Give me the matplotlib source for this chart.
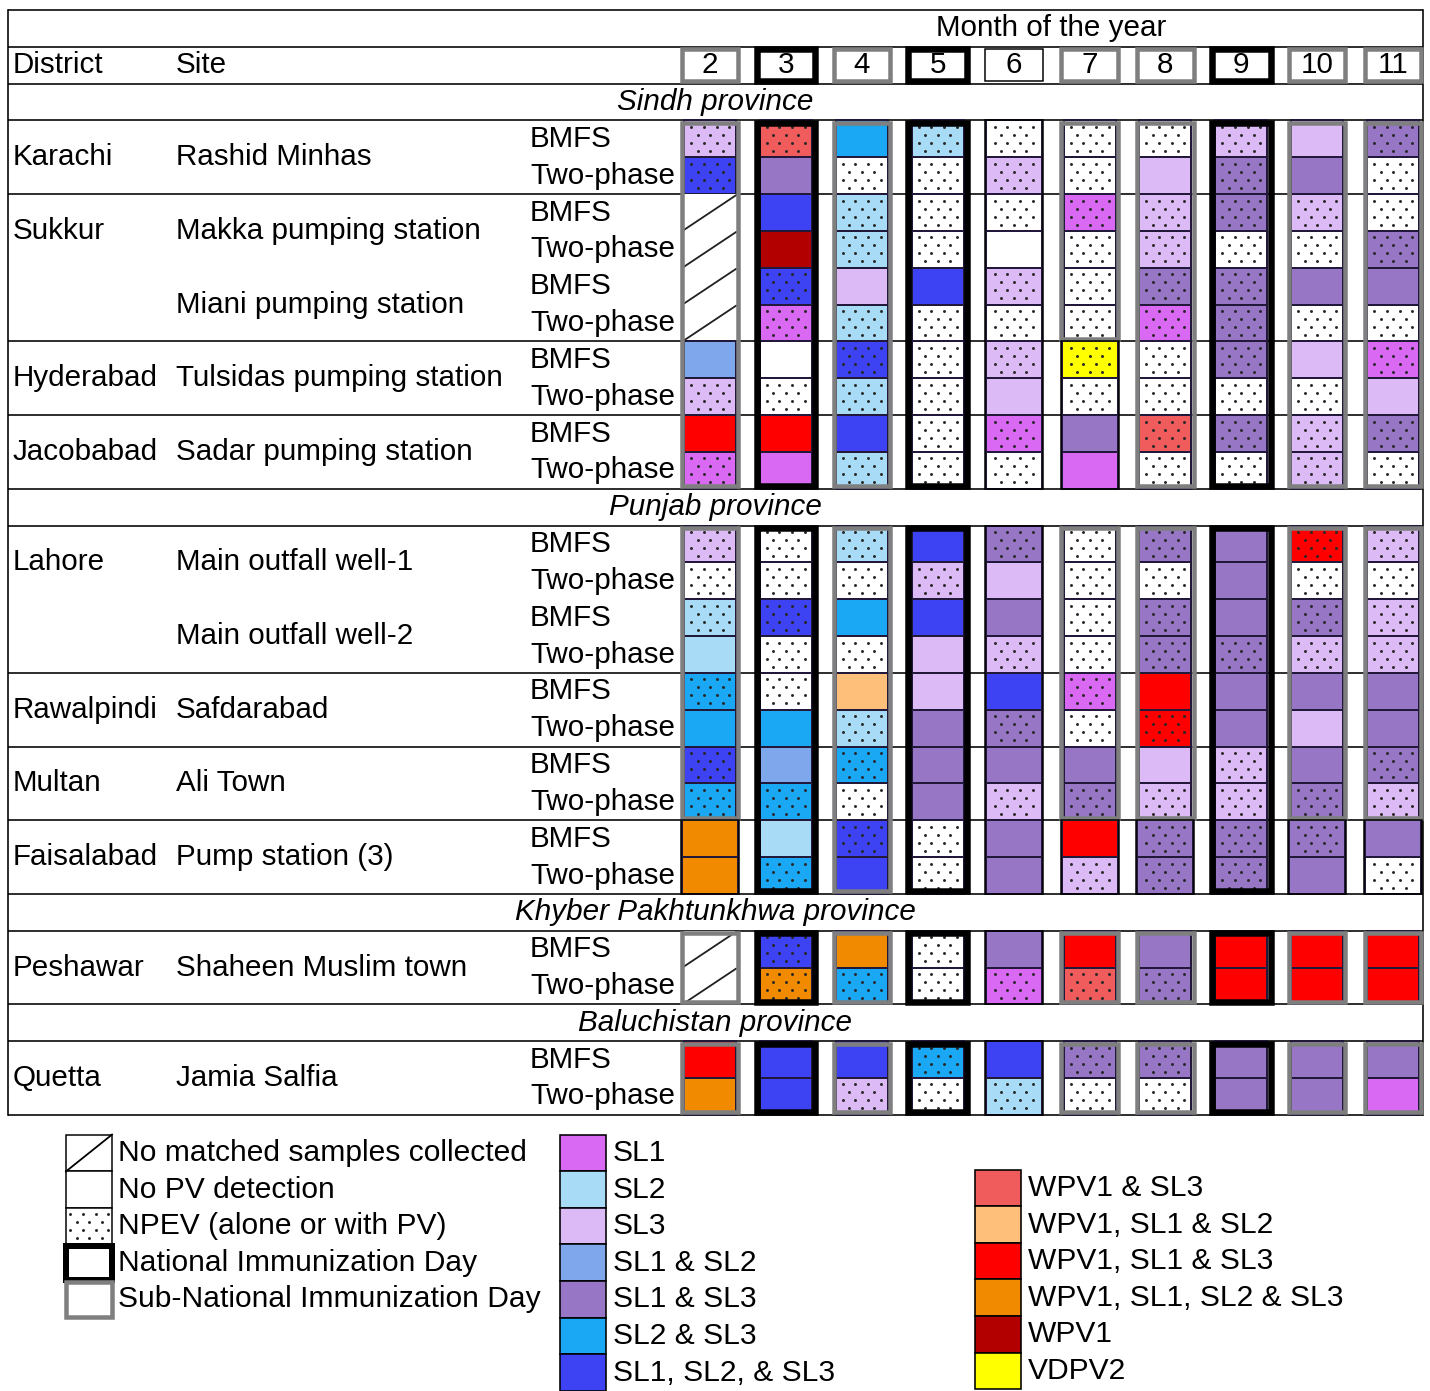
import matplotlib
matplotlib.use("Agg")
import matplotlib.pyplot as plt
from matplotlib.patches import Rectangle

plt.rcParams['font.family'] = ['Liberation Sans', 'DejaVu Sans']

months = [2, 3, 4, 5, 6, 7, 8, 9, 10, 11]
campaign = ['SNID', 'NID', 'SNID', 'NID', '', 'SNID', 'SNID', 'NID', 'SNID', 'SNID']

# cell codes: - no PV, x no matched samples, 1/2/3 = SL1/SL2/SL3,
# W = WPV1, V = VDPV2, trailing * = NPEV
sindh_sites = [('Karachi', 'Rashid Minhas'), ('Sukkur', 'Makka pumping station'),
               ('', 'Miani pumping station'), ('Hyderabad', 'Tulsidas pumping station'),
               ('Jacobabad', 'Sadar pumping station')]
sindh_cells = [
    '3* W3* 23 2* -* -* -* 3* 3 13*',
    '123* 13 -* -* 3* -* 3 13* 13 -*',
    'x 123 2* -* -* 1* 3* 13* 3* -*',
    'x W 2* -* - -* 3* -* -* 13*',
    'x 123* 3 123 3* -* 13* 13* 13 13',
    'x 1* 2* -* -* -* 1* 13* -* -*',
    '12 - 123* -* 3* V* -* 13* 3 1*',
    '3* -* 2* -* 3 -* -* -* -* 3',
    'W13 W13 123 -* 1* 13 W3* 13* 3* 13*',
    '1* 1 2* -* -* 1 -* -* 3* -*',
]
sindh_box_rows = [10, 10, 10, 10, 0, 6, 10, 10, 10, 10]

punjab_sites = [('Lahore', 'Main outfall well-1'), ('', 'Main outfall well-2'),
                ('Rawalpindi', 'Safdarabad'), ('Multan', 'Ali Town'),
                ('Faisalabad', 'Pump station (3)')]
punjab_cells = [
    '3* -* 2* 123 13* -* 13* 13 W13* 3*',
    '-* -* -* 3* 3 -* -* 13 -* -*',
    '2* 123* 23 123 13 -* 13* 13 13* 3*',
    '2 -* -* 3 3* -* 13* 13* 3* 3*',
    '23* -* W12 3 123 1* W13 13 13 13',
    '23 23 2* 13 13* -* W13* 13 3 13',
    '123* 12 23* 13 13 13 3 3* 13 13*',
    '23* 23* -* 13 3* 13* 3* 3* 13* 3*',
    'W123 2 123* -* 13 W13 13* 13* 13* 13',
    'W123 23* 123 -* 13 3* 13* 13* 13 -*',
]
punjab_box_rows = [8, 10, 10, 10, 0, 8, 8, 10, 8, 8]

kp_sites = [('Peshawar', 'Shaheen Muslim town')]
kp_cells = [
    'x 123* W123 -* 13 W13 13 W13 W13 W13',
    'x W123* 23* -* 1* W3* 13* W13 W13 W13',
]
kp_box_rows = [2, 2, 2, 2, 0, 2, 2, 2, 2, 2]

bal_sites = [('Quetta', 'Jamia Salfia')]
bal_cells = [
    'W13 123 123 23* 123 13* 13* 13 13 13',
    'W123 123 3* -* 2* -* -* 13 13 1',
]
bal_box_rows = [2, 2, 2, 2, 0, 2, 2, 2, 2, 2]

code_colors = {'-': 'white', 'x': 'white', '1': '#d968f2', '2': '#a8dcf6',
               '3': '#dcbaf6', '12': '#7fa7ec', '13': '#9776c6', '23': '#1aa8f4',
               '123': '#3d42f2', 'W3': '#f05c5c', 'W12': '#fdbf7a', 'W13': '#fe0000',
               'W123': '#f28a00', 'W': '#b20000', 'V': '#ffff00'}
legend_mid_codes = ['1', '2', '3', '12', '13', '23', '123']
legend_mid_labels = ['SL1', 'SL2', 'SL3', 'SL1 & SL2', 'SL1 & SL3', 'SL2 & SL3', 'SL1, SL2, & SL3']
legend_right_codes = ['W3', 'W12', 'W13', 'W123', 'W', 'V']
legend_right_labels = ['WPV1 & SL3', 'WPV1, SL1 & SL2', 'WPV1, SL1 & SL3',
                       'WPV1, SL1, SL2 & SL3', 'WPV1', 'VDPV2']
legend_left_labels = ['No matched samples collected', 'No PV detection',
                      'NPEV (alone or with PV)', 'National Immunization Day',
                      'Sub-National Immunization Day']

sections = [('Sindh province', sindh_sites, sindh_cells, sindh_box_rows),
            ('Punjab province', punjab_sites, punjab_cells, punjab_box_rows),
            ('Khyber Pakhtunkhwa province', kp_sites, kp_cells, kp_box_rows),
            ('Baluchistan province', bal_sites, bal_cells, bal_box_rows)]

# layout (pixels of the 1430x1391 picture)
W, H = 1430, 1391
DX, X2 = 75.9, 710.0
RY0, RH = 10.0, 36.83
PT = 0.72
FS = 21.3
FSL = 21.6

fig = plt.figure(figsize=(W / 100, H / 100), dpi=100)
ax = fig.add_axes([0, 0, 1, 1])
ax.set_xlim(2 - X2 / DX, 2 + (W - X2) / DX)
ax.set_ylim((H - RY0) / RH, -RY0 / RH)
ax.axis('off')


def mx(p):
    return 2 + (p - X2) / DX


def my(p):
    return (p - RY0) / RH


XL, XR = mx(8), mx(1423)
dots_x, dots_y = [], []


def add_dots(xc, yc):
    # NPEV dot texture inside a cell centred at (xc, yc)
    for k, dy in enumerate([-12, -4, 4, 12]):
        offs = [-19, -6.5, 6.5, 19] if k % 2 == 0 else [-12.5, 0, 12.5]
        for dx in offs:
            dots_x.append(xc + dx / DX)
            dots_y.append(yc + dy / RH)


def draw_cell(m, r, code, boxed):
    dotted = code.endswith('*')
    c = code.rstrip('*')
    cw = (52 if boxed else 56) / DX
    if c == 'x':
        ax.add_patch(Rectangle((m - cw / 2, r), cw, 1, facecolor='white',
                               edgecolor='none', zorder=2))
        ax.plot([m - cw / 2, m + cw / 2], [r + 0.97, r + 0.03], color='#202020',
                lw=1.3, zorder=3)
    else:
        ax.add_patch(Rectangle((m - cw / 2, r), cw, 1, facecolor=code_colors[c],
                               edgecolor='#22183a', lw=2.0 * PT, zorder=2))
    if dotted:
        add_dots(m, r + 0.5)


def draw_box(m, r0, n, kind, inset=0.07):
    if kind == 'NID':
        bw, lw, col = 58.5, 6.5, 'black'
    elif kind == 'SNID':
        bw, lw, col = 56.5, 4.5, '#7f7f7f'
    else:
        bw, lw, col = 58, 1.5, 'black'
    ax.add_patch(Rectangle((m - bw / 2 / DX, r0 + inset), bw / DX, n - 2 * inset,
                           fill=False, edgecolor=col, lw=lw * PT, zorder=5,
                           joinstyle='miter'))


def hline(y):
    ax.plot([XL, XR], [y, y], color='black', lw=1.6 * PT, zorder=1,
            solid_capstyle='butt')


# header
hline(0)
hline(1)
hline(2)
ax.text(mx(1051), 0.5, 'Month of the year', ha='center', va='center', fontsize=FS)
ax.text(mx(13), 1.5, 'District', ha='left', va='center', fontsize=FS)
ax.text(mx(176), 1.5, 'Site', ha='left', va='center', fontsize=FS)
for m, kind in zip(months, campaign):
    draw_box(m, 1, 1, kind, inset=0.06)
    ax.text(m, 1.5, str(m), ha='center', va='center', fontsize=FS, zorder=6)

r = 2
for prov, sites, cells, boxes in sections:
    ax.text(mx(715), r + 0.5, prov, ha='center', va='center', fontsize=FS,
            style='italic', zorder=6)
    r += 1
    hline(r)
    for k, (dist, site) in enumerate(sites):
        y0 = r + 2 * k
        if dist:
            ax.text(mx(13), y0 + 1, dist, ha='left', va='center', fontsize=FS)
        ax.text(mx(176), y0 + 1, site, ha='left', va='center', fontsize=FS)
        ax.text(mx(530), y0 + 0.5, 'BMFS', ha='left', va='center', fontsize=FS)
        ax.text(mx(530), y0 + 1.5, 'Two-phase', ha='left', va='center', fontsize=FS)
        nxt = sites[k + 1][0] if k + 1 < len(sites) else 'end'
        if nxt != '':
            hline(y0 + 2)
    for i, row in enumerate(cells):
        for j, code in enumerate(row.split()):
            draw_cell(months[j], r + i, code, i < boxes[j])
    for j, n in enumerate(boxes):
        draw_box(months[j], r, n if n else len(cells), campaign[j] if n else '',
                 inset=0.07 if n else 0.0)
        if n and n < len(cells):
            draw_box(months[j], r + n, len(cells) - n, '', inset=0.0)
    r += len(cells)

ax.plot([XL, XL], [0, r], color='black', lw=1.6 * PT, zorder=1)
ax.plot([XR, XR], [0, r], color='black', lw=1.6 * PT, zorder=1)

# legend
LH = 36.6
for i, lab in enumerate(legend_left_labels):
    yc = my(1153 + i * LH)
    x0, x1 = mx(66), mx(112)
    h = 34.5 / RH
    if i == 3:
        ax.add_patch(Rectangle((x0, yc - h / 2), x1 - x0, h, fill=False,
                               edgecolor='black', lw=6 * PT, zorder=5))
    elif i == 4:
        ax.add_patch(Rectangle((x0, yc - h / 2), x1 - x0, h, fill=False,
                               edgecolor='#7f7f7f', lw=4.5 * PT, zorder=5))
    else:
        ax.add_patch(Rectangle((x0, yc - 0.5), x1 - x0, 1, facecolor='white',
                               edgecolor='black', lw=1.5 * PT, zorder=2))
    if i == 0:
        ax.plot([x0, x1], [yc + 0.5, yc - 0.5], color='black', lw=1.3, zorder=3)
    if i == 2:
        add_dots((x0 + x1) / 2, yc)
    ax.text(mx(118), yc, lab, ha='left', va='center', fontsize=FSL)

for codes, labels, bx, by in [(legend_mid_codes, legend_mid_labels, 560, 1153),
                              (legend_right_codes, legend_right_labels, 975, 1188)]:
    for i, (c, lab) in enumerate(zip(codes, labels)):
        yc = my(by + i * LH)
        ax.add_patch(Rectangle((mx(bx), yc - 0.5), 46 / DX, LH / RH,
                               facecolor=code_colors[c], edgecolor='black',
                               lw=1.6 * PT, zorder=2))
        ax.text(mx(bx + 53), yc, lab, ha='left', va='center', fontsize=FSL)

ax.scatter(dots_x, dots_y, s=4.5, color='#262626', linewidths=0, zorder=4)

fig.savefig('out.png', dpi=100)
